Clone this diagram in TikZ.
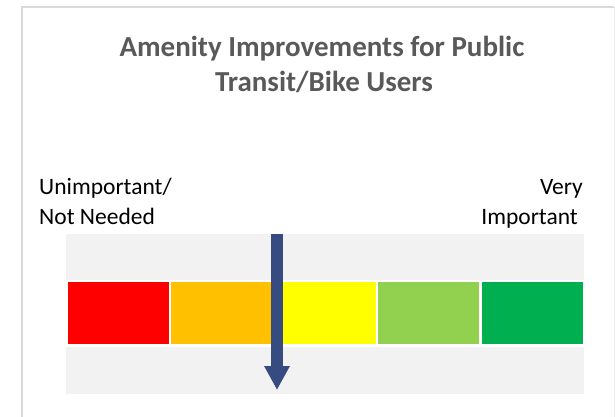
\documentclass[tikz,border=0pt]{standalone}
\usepackage{fontspec}
\setmainfont{Carlito}
\usetikzlibrary{arrows.meta}

\definecolor{framegray}{RGB}{217,217,217}
\definecolor{bandgray}{RGB}{242,242,242}
\definecolor{titlegray}{RGB}{89,89,89}
\definecolor{cred}{RGB}{255,0,0}
\definecolor{corange}{RGB}{255,192,0}
\definecolor{cyellow}{RGB}{255,255,0}
\definecolor{clgreen}{RGB}{146,208,80}
\definecolor{cgreen}{RGB}{0,176,80}
\definecolor{arrowblue}{RGB}{54,75,128}

\begin{document}
\begin{tikzpicture}[x=1pt,y=-1pt,
  title/.style={text=titlegray,inner sep=0pt,anchor=base,font=\bfseries\fontsize{29}{35}\selectfont},
  scalelabel/.style={text=black,inner sep=0pt,font=\fontsize{23.5}{28}\selectfont},
  cell/.style={anchor=north west,inner sep=0pt,minimum width=101pt,minimum height=62pt},
  pointer/.style={arrowblue,line width=12pt,-{Triangle[width=24pt,length=24pt]}}]

\useasboundingbox (0,0) rectangle (615,416);

%frame and band
  \draw[framegray,line width=2pt] (22,420) -- (22,7) -- (614,7);
  \draw[framegray!50,line width=1pt] (614,7) -- (614,420);
  \fill[bandgray] (66,234) rectangle (584,394);
  \fill[white] (66,280) rectangle (584,347);

%title
  \node[title] (title1) at (322,56) {Amenity Improvements for Public};
  \node[title] (title2) at (324,91) {Transit/Bike Users};

%end labels
  \node[scalelabel,anchor=base west] (low1) at (39,194) {Unimportant/};
  \node[scalelabel,anchor=base west] (low2) at (39,224) {Not Needed};
  \node[scalelabel,anchor=base east] (high1) at (583,194) {Very};
  \node[scalelabel,anchor=base east] (high2) at (578,224) {Important};

%colour scale
  \foreach \c [count=\i] in {cred,corange,cyellow,clgreen,cgreen}
    \node[cell,fill=\c] (cell\i) at ({67.7+(\i-1)*103.4},282) {};

%pointer
  \coordinate (ptop) at (277,234);
  \coordinate (ptip) at (277,390);
  \draw[pointer] (ptop) -- (ptip);

\end{tikzpicture}
\end{document}
